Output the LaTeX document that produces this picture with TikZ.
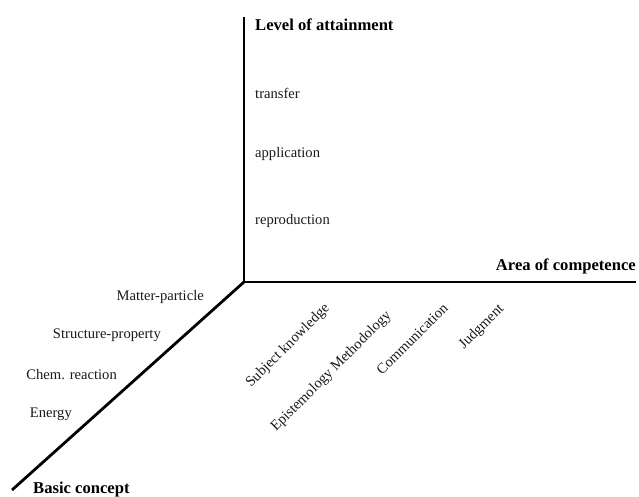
\documentclass[tikz,border=0pt]{standalone}
\usepackage{fontspec}
\setmainfont{Liberation Serif}
\usetikzlibrary{positioning}
\definecolor{cmInk}{HTML}{000000}
\definecolor{cmText}{HTML}{1A1A1A}
\tikzset{
  cm axis/.style={draw=cmInk, line width=2.8bp, line cap=butt},
  cm head/.style={font=\fontsize{16.6bp}{19bp}\selectfont\bfseries, text=cmInk, inner sep=0pt},
  cm label/.style={font=\fontsize{14.6bp}{17bp}\selectfont, text=cmText, inner sep=0pt},
  cm tilted/.style={cm label, rotate=45, anchor=base west}
}
\begin{document}
\begin{tikzpicture}[x=1bp,y=1bp]
  \useasboundingbox[fill=white] (0,0) rectangle (639,497);
  \coordinate (O) at (244,215);
  \coordinate (T) at (244,480);
  \coordinate (R) at (636,215);
  \coordinate (B) at (12,7);

  % the three axes
  \draw[cm axis] (T) -- (O) -- (R);
  \draw[cm axis] (O) -- (B);

  % level of attainment
  \node[cm head, anchor=west] (lvl) at (255,472) {Level of attainment};
  \node[cm label, anchor=west] (trans) at (255,404) {transfer};
  \node[cm label, anchor=west] (appl) at (255,343) {application};
  \node[cm label, anchor=west] (repr) at (255,276) {reproduction};

  % area of competence
  \node[cm head, anchor=east] (area) at (636,231) {Area of competence};
  \node[cm tilted] (subj) at (251,109) {Subject knowledge};
  \node[cm tilted] (epis) at (276,65) {Epistemology Methodology};
  \node[cm tilted] (comm) at (382,121) {Communication};
  \node[cm tilted] (judg) at (464,147) {Judgment};

  % basic concept
  \node[cm label, anchor=east] (matt) at (204,200) {Matter-particle};
  \node[cm label, anchor=east] (stru) at (161,162) {Structure-property};
  \node[cm label, anchor=east] (chem) at (117,122) {Chem. reaction};
  \node[cm label, anchor=east] (ener) at (72,83) {Energy};
  \node[cm head, anchor=west] (basic) at (33,7) {Basic concept};
\end{tikzpicture}
\end{document}
